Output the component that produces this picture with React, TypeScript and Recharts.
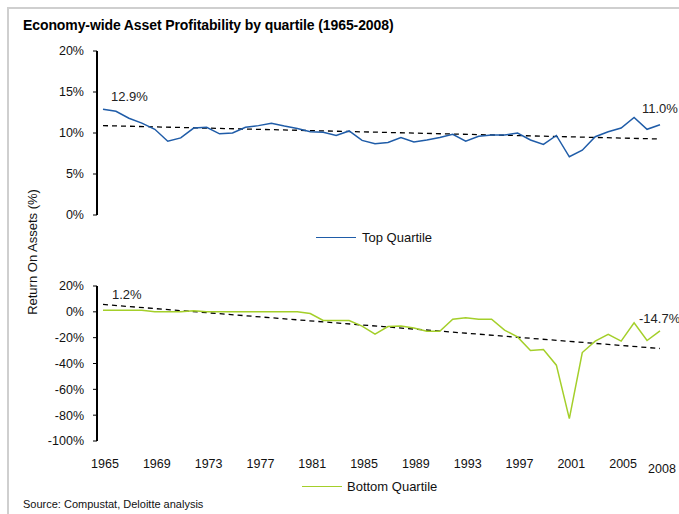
import React from 'react';
import { LineChart, Line, XAxis, YAxis, ReferenceLine, LabelList } from 'recharts';

const years = [1965,1966,1967,1968,1969,1970,1971,1972,1973,1974,1975,1976,1977,1978,1979,1980,1981,1982,1983,1984,1985,1986,1987,1988,1989,1990,1991,1992,1993,1994,1995,1996,1997,1998,1999,2000,2001,2002,2003,2004,2005,2006,2007,2008];
const topQuartile = [12.9,12.65,11.8,11.2,10.45,9.0,9.4,10.6,10.7,9.9,10.0,10.7,10.9,11.2,10.85,10.55,10.15,10.1,9.7,10.25,9.1,8.7,8.85,9.45,8.9,9.15,9.45,9.85,9.0,9.6,9.75,9.75,10.0,9.15,8.6,9.7,7.1,7.9,9.55,10.15,10.6,11.9,10.45,11.0];
const bottomQuartile = [1.2,1.2,1.2,1.2,0,0,0,0.8,0,0,0,0,0,0,0,0,-1.3,-6.7,-6.7,-6.7,-11,-17.3,-11.4,-11,-12.6,-15,-15,-5.7,-4.6,-5.7,-5.7,-14.2,-19.4,-30,-29.2,-41.3,-82.7,-31.5,-22.7,-17.5,-22.7,-8.5,-22.2,-14.7];
const topTrend = [10.9, 9.27];
const bottomTrend = [5.7, -28.4];
const topTicks = [0, 5, 10, 15, 20];
const bottomTicks = [20, 0, -20, -40, -60, -80, -100];
const xTicks = [1965,1969,1973,1977,1981,1985,1989,1993,1997,2001,2005,2008];

const data = years.map((y, i) => ({ year: y, top: topQuartile[i], bottom: bottomQuartile[i] }));

const FONT = '"Liberation Sans", Arial, sans-serif';
const BLUE = '#1f5ca8';
const GREEN = '#a4cf2a';
const pct = (v: number) => `${v}%`;

const makeEndLabel = (n: number, first: { dx: number; dy: number }, last: { dx: number; dy: number }) => (props: any) => {
  const { x, y, value, index } = props;
  if (index !== 0 && index !== n - 1) return null;
  const off = index === 0 ? first : last;
  return (
    <text x={x + off.dx} y={y + off.dy} fontSize={13} fill="#222" fontFamily={FONT}>
      {`${Number(value).toFixed(1)}%`}
    </text>
  );
};

const XTick = (props: any) => {
  const { x, y, payload } = props;
  const extra = payload.value === 2008 ? 5 : 0;
  return (
    <text x={x + 2} y={y + 27 + extra} textAnchor="middle" fontSize={12.5} fill="#111" fontFamily={FONT}>
      {payload.value}
    </text>
  );
};

const axisLineStyle = { stroke: '#000', strokeWidth: 2 };
const tickLineStyle = { stroke: '#000', strokeWidth: 1 };
const tickStyle = { fontSize: 12.5, fill: '#111', fontFamily: FONT };

export default function App() {
  const n = years.length;
  return (
    <div style={{ position: 'absolute', left: 0, top: 0, width: 679, height: 514, background: '#fff', fontFamily: FONT, overflow: 'hidden' }}>
      <div style={{ position: 'absolute', left: 7, top: 7, width: 672, height: 507, borderTop: '2px solid #cfcfcf', borderLeft: '2px solid #cfcfcf' }} />
      <div style={{ position: 'absolute', left: 23, top: 17, fontSize: 14, fontWeight: 'bold', color: '#000', whiteSpace: 'nowrap', letterSpacing: -0.1 }}>
        Economy-wide Asset Profitability by quartile (1965-2008)
      </div>

      <div style={{ position: 'absolute', left: 0, top: 0 }}>
        <LineChart width={679} height={230} data={data} margin={{ top: 51, right: 9, bottom: 15, left: 0 }}>
          <XAxis dataKey="year" type="number" domain={[1965, 2008]} hide padding={{ left: 6, right: 10 }} />
          <YAxis domain={[0, 20]} ticks={topTicks} tickFormatter={pct} width={97} tickSize={4} tickMargin={9}
            axisLine={axisLineStyle} tickLine={tickLineStyle} tick={tickStyle} interval={0} />
          <ReferenceLine segment={[{ x: 1965, y: topTrend[0] }, { x: 2008, y: topTrend[1] }]} stroke="#000" strokeWidth={1.3} strokeDasharray="5 4" />
          <Line type="linear" dataKey="top" stroke={BLUE} strokeWidth={1.5} dot={false} isAnimationActive={false}>
            <LabelList dataKey="top" content={makeEndLabel(n, { dx: 8, dy: -8.5 }, { dx: -18, dy: -12 })} />
          </Line>
        </LineChart>
      </div>

      <div style={{ position: 'absolute', left: 0, top: 0 }}>
        <LineChart width={679} height={514} data={data} margin={{ top: 286, right: 9, bottom: 43, left: 0 }}>
          <XAxis dataKey="year" type="number" domain={[1965, 2008]} ticks={xTicks} interval={0} height={30}
            padding={{ left: 6, right: 10 }} axisLine={false} tickLine={false} tickSize={0} tickMargin={0} tick={<XTick />} />
          <YAxis domain={[-100, 20]} ticks={bottomTicks} tickFormatter={pct} width={97} tickSize={4} tickMargin={9}
            axisLine={axisLineStyle} tickLine={tickLineStyle} tick={tickStyle} interval={0} />
          <ReferenceLine segment={[{ x: 1965, y: bottomTrend[0] }, { x: 2008, y: bottomTrend[1] }]} stroke="#000" strokeWidth={1.3} strokeDasharray="5 4" />
          <Line type="linear" dataKey="bottom" stroke={GREEN} strokeWidth={1.5} dot={false} isAnimationActive={false}>
            <LabelList dataKey="bottom" content={makeEndLabel(n, { dx: 9, dy: -11 }, { dx: -21, dy: -7.5 })} />
          </Line>
        </LineChart>
      </div>

      <svg style={{ position: 'absolute', left: 0, top: 0 }} width={679} height={514}>
        <text transform="translate(37,252) rotate(-90)" textAnchor="middle" fontSize={13} fill="#111" fontFamily={FONT}>
          Return On Assets (%)
        </text>
      </svg>

      <div style={{ position: 'absolute', left: 316, top: 230, display: 'flex', alignItems: 'center', fontSize: 13, color: '#111' }}>
        <span style={{ display: 'inline-block', width: 40, height: 0, borderTop: `1.5px solid ${BLUE}`, marginRight: 6 }} />
        <span>Top Quartile</span>
      </div>
      <div style={{ position: 'absolute', left: 302, top: 479, display: 'flex', alignItems: 'center', fontSize: 13, color: '#111' }}>
        <span style={{ display: 'inline-block', width: 40, height: 0, borderTop: `1.5px solid ${GREEN}`, marginRight: 5 }} />
        <span>Bottom Quartile</span>
      </div>

      <div style={{ position: 'absolute', left: 23, top: 498, fontSize: 11, color: '#111', whiteSpace: 'nowrap' }}>
        Source: Compustat, Deloitte analysis
      </div>
    </div>
  );
}
